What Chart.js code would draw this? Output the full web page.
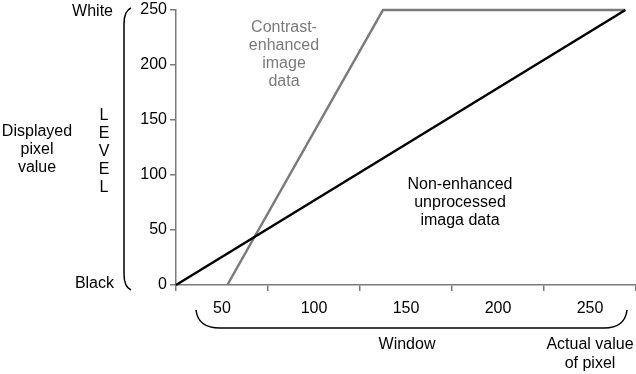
<!DOCTYPE html>
<html lang="en">
<head>
    <meta charset="UTF-8">
    <title>Window and level</title>
    <style>
        body { margin: 0; padding: 0; background: #fff; }
        .wrap { width: 636px; height: 374px; position: relative; }
    </style>
</head>
<body>
    <div class="wrap"><canvas id="chart" width="636" height="374"></canvas></div>
    <script src="https://cdn.jsdelivr.net/npm/chart.js"></script>
    <script>
        // values
        const plainInput = [0, 254];
        const plainOutput = [0, 250];
        const enhancedInput = [29, 117, 254];
        const enhancedOutput = [0, 250, 250];
        const xTickLabels = ['50', '100', '150', '200', '250'];
        const yTickStep = 50;

        const GRAY = '#7a7a7a';
        const FONT = '16px "Liberation Sans", Arial, sans-serif';

        function toPoints(xs, ys) {
            return xs.map((x, i) => ({ x: x, y: ys[i] }));
        }

        const annotations = {
            id: 'annotations',
            afterDraw(chart) {
                const ctx = chart.ctx;
                ctx.save();
                ctx.font = FONT;
                ctx.fillStyle = '#000';
                ctx.textBaseline = 'middle';

                ctx.textAlign = 'right';
                ctx.fillText('White', 113, 12);
                ctx.fillText('Black', 114, 284);

                ctx.textAlign = 'center';
                ctx.fillText('Displayed', 37, 132);
                ctx.fillText('pixel', 37, 150);
                ctx.fillText('value', 37, 168);
                ['L', 'E', 'V', 'E', 'L'].forEach((c, i) => ctx.fillText(c, 104, 116 + i * 18));

                ctx.fillText('Window', 407, 345);
                ctx.fillText('Actual value', 590, 345);
                ctx.fillText('of pixel', 590, 364);

                ctx.fillText('Non-enhanced', 460, 185);
                ctx.fillText('unprocessed', 460, 203);
                ctx.fillText('imaga data', 460, 221);

                ctx.fillStyle = GRAY;
                ctx.fillText('Contrast-', 284, 28);
                ctx.fillText('enhanced', 284, 46);
                ctx.fillText('image', 284, 64);
                ctx.fillText('data', 284, 82);

                // left bracket
                ctx.strokeStyle = '#000';
                ctx.lineWidth = 1.5;
                ctx.beginPath();
                ctx.moveTo(131, 8);
                ctx.quadraticCurveTo(124, 11, 124, 24);
                ctx.lineTo(124, 274);
                ctx.quadraticCurveTo(124, 287, 131, 290);
                ctx.stroke();

                // bottom brace
                ctx.beginPath();
                ctx.moveTo(196, 310);
                ctx.quadraticCurveTo(198, 328, 220, 328);
                ctx.lineTo(604, 328);
                ctx.quadraticCurveTo(625, 328, 627, 310);
                ctx.stroke();
                ctx.restore();
            }
        };

        new Chart(document.getElementById('chart'), {
            type: 'scatter',
            data: {
                datasets: [
                    {
                        label: 'Non-enhanced',
                        data: toPoints(plainInput, plainOutput),
                        showLine: true,
                        borderColor: '#000',
                        borderWidth: 2.5,
                        pointRadius: 0,
                        clip: false
                    },
                    {
                        label: 'Contrast-enhanced',
                        data: toPoints(enhancedInput, enhancedOutput),
                        showLine: true,
                        borderColor: GRAY,
                        borderWidth: 2.5,
                        pointRadius: 0,
                        clip: false
                    }
                ]
            },
            options: {
                responsive: false,
                animation: false,
                layout: { padding: { top: 10, right: 0, left: 0, bottom: 0 } },
                plugins: { legend: { display: false }, tooltip: { enabled: false } },
                scales: {
                    x: {
                        type: 'linear',
                        min: 0,
                        max: 260,
                        afterFit: s => { s.height = 89; s.paddingLeft = 0; s.paddingRight = 0; },
                        ticks: {
                            stepSize: 52,
                            autoSkip: false,
                            maxRotation: 0,
                            labelOffset: 46,
                            padding: 8,
                            color: '#000',
                            font: { family: '"Liberation Sans", Arial, sans-serif', size: 16 },
                            callback: (v, i) => xTickLabels[i] || ''
                        },
                        grid: { drawOnChartArea: false, tickLength: 6, color: GRAY, lineWidth: 1.5 },
                        border: { color: GRAY, width: 1.5 }
                    },
                    y: {
                        min: 0,
                        max: 250,
                        afterFit: s => { s.width = 176; s.paddingTop = 0; s.paddingBottom = 0; },
                        ticks: {
                            stepSize: yTickStep,
                            padding: 3,
                            color: '#000',
                            font: { family: '"Liberation Sans", Arial, sans-serif', size: 16 }
                        },
                        grid: { drawOnChartArea: false, tickLength: 6, color: GRAY, lineWidth: 1.5 },
                        border: { color: GRAY, width: 1.5 }
                    }
                }
            },
            plugins: [annotations]
        });
    </script>
</body>
</html>
